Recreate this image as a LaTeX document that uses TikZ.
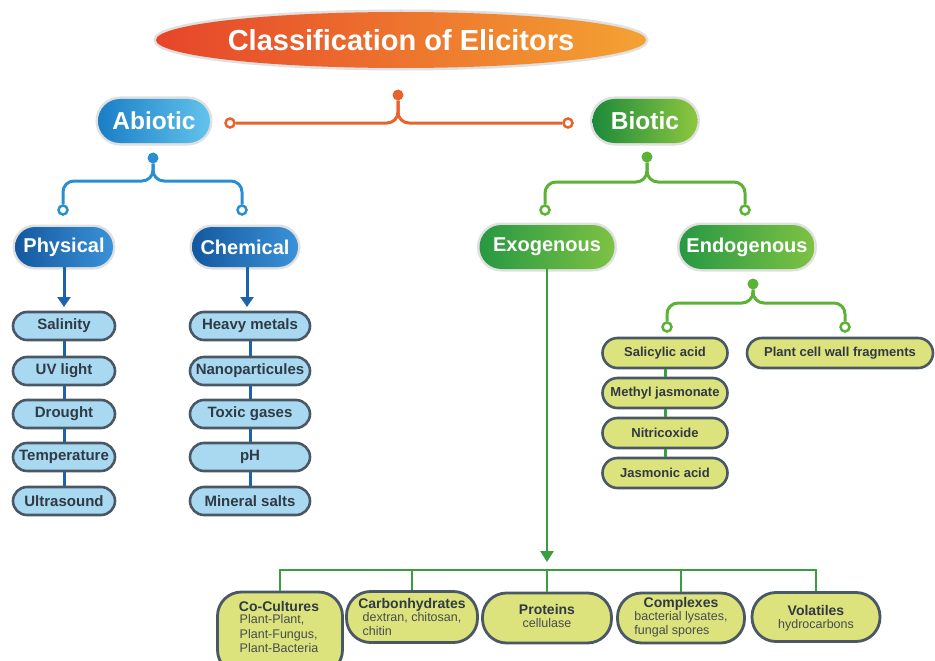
\documentclass[tikz,border=0pt]{standalone}
\usepackage{fontspec}
\setmainfont{Liberation Sans}
\usetikzlibrary{shapes.misc,shapes.geometric,arrows.meta}
\definecolor{orA}{HTML}{E6452A}
\definecolor{orB}{HTML}{F4A232}
\definecolor{orL}{HTML}{E8622C}
\definecolor{abA}{HTML}{1A7EC6}
\definecolor{abB}{HTML}{62C3EC}
\definecolor{phA}{HTML}{14589F}
\definecolor{phB}{HTML}{3A92D8}
\definecolor{blL}{HTML}{2A8FD0}
\definecolor{blD}{HTML}{1E62AE}
\definecolor{biA}{HTML}{1C8A3A}
\definecolor{biB}{HTML}{8DC63F}
\definecolor{exA}{HTML}{279843}
\definecolor{exB}{HTML}{7DC243}
\definecolor{grL}{HTML}{5BB234}
\definecolor{grD}{HTML}{3A9E3E}
\definecolor{lblue}{HTML}{A9D9F1}
\definecolor{ylw}{HTML}{DCE27C}
\definecolor{ibord}{HTML}{4A5866}
\definecolor{itext}{HTML}{2F3A44}
\definecolor{stext}{HTML}{474C50}
\newcommand{\bt}[1]{{\bfseries\fontsize{14}{16}\selectfont #1}}
\newcommand{\st}[1]{{\color{stext}\fontsize{12.5}{14.3}\selectfont\begin{tabular}{@{}l@{}}#1\end{tabular}}}
\newcommand{\bxt}[2]{\begin{tabular}{@{}c@{}}\bt{#1}\\[-1pt]\st{#2}\end{tabular}}
\begin{document}
\begin{tikzpicture}[x=1pt,y=-1pt,
  glow/.style={preaction={draw=black!12,line width=5pt}},
  pill/.style={rounded rectangle,inner sep=0pt,text=white,glow,
    font=\bfseries\fontsize{20}{24}\selectfont},
  itembox/.style={rounded rectangle,draw=ibord,line width=2.6pt,inner sep=0pt,
    minimum height=28pt,text=itext,font=\bfseries\fontsize{15}{17}\selectfont},
  bitem/.style={itembox,fill=lblue},
  yitem/.style={itembox,fill=ylw,minimum height=30pt,font=\bfseries\fontsize{13}{15}\selectfont},
  bbox/.style={rectangle,rounded corners=24pt,draw=ibord,fill=ylw,line width=2.8pt,inner sep=0pt},
  btext/.style={inner sep=0pt,text=itext},
  jdot/.style={circle,fill=#1,inner sep=0pt,minimum size=11pt},
  jring/.style={circle,draw=#1,fill=white,line width=2.5pt,inner sep=0pt,minimum size=9pt},
  conn/.style={draw=#1,line width=3pt,rounded corners=11pt},
  link/.style={draw=#1,line width=3pt},
]
\useasboundingbox[fill=white] (0,0) rectangle (935,661);

% title
\node[ellipse,minimum width=412pt,minimum height=56pt,inner sep=0pt,left color=orA,right color=orB,glow,
  text=white,font=\bfseries\fontsize{29}{32}\selectfont] (title) at (401,40) {Classification of Elicitors};

% level 1
\node[pill,minimum width=112pt,minimum height=44pt,left color=abA,right color=abB,font=\bfseries\fontsize{24.5}{28}\selectfont] (abiotic) at (154,121) {Abiotic};
\node[pill,minimum width=105pt,minimum height=44pt,left color=biA,right color=biB,font=\bfseries\fontsize{24.5}{28}\selectfont] (biotic) at (645,121) {Biotic};

\node[jdot=orL] (odot) at (398,95) {};
\node[jring=orL] (oring1) at (230,123) {};
\node[jring=orL] (oring2) at (568,123) {};
\coordinate (obus) at (0,123);
\draw[conn=orL] (oring1) -- (odot |- obus) -- (odot);
\draw[conn=orL] (oring2) -- (odot |- obus) -- (odot);

% abiotic branch
\node[jdot=blL] (adot) at (153,158) {};
\node[jring=blL] (aring1) at (63,210) {};
\node[jring=blL] (aring2) at (242,210) {};
\coordinate (abus) at (0,181);
\draw[conn=blL] (aring1) -- (aring1 |- abus) -- (adot |- abus) -- (adot);
\draw[conn=blL] (aring2) -- (aring2 |- abus) -- (adot |- abus) -- (adot);

\node[pill,minimum width=98pt,minimum height=40pt,left color=phA,right color=phB] (phys) at (64,247) {Physical};
\node[pill,minimum width=106pt,minimum height=40pt,left color=phA,right color=phB] (chem) at (245,247) {Chemical};

\node[bitem,minimum width=102pt] (p1) at (64,326) {Salinity};
\node[bitem,minimum width=102pt] (p2) at (64,371) {UV light};
\node[bitem,minimum width=102pt] (p3) at (64,414) {Drought};
\node[bitem,minimum width=102pt] (p4) at (64,457) {Temperature};
\node[bitem,minimum width=102pt] (p5) at (64,501) {Ultrasound};

\node[bitem,minimum width=120pt] (c1) at (250,326) {Heavy metals};
\node[bitem,minimum width=120pt] (c2) at (250,371) {Nanoparticules};
\node[bitem,minimum width=120pt] (c3) at (250,414) {Toxic gases};
\node[bitem,minimum width=120pt] (c4) at (250,457) {pH};
\node[bitem,minimum width=120pt] (c5) at (250,501) {Mineral salts};

\coordinate (parr) at (64,307);
\coordinate (carr) at (247,307);
\draw[link=blD,-{Triangle[width=13pt,length=10pt]}] (phys.south) -- (parr);
\draw[link=blD,-{Triangle[width=13pt,length=10pt]}] (chem.south -| carr) -- (carr);
\foreach \a/\b in {p1/p2,p2/p3,p3/p4,p4/p5,c1/c2,c2/c3,c3/c4,c4/c5}
  \draw[link=blD] (\a.south) -- (\b.north);

% biotic branch
\node[jdot=grL] (bdot) at (647,157) {};
\node[jring=grL] (bring1) at (545,210) {};
\node[jring=grL] (bring2) at (745,210) {};
\coordinate (bbus) at (0,182);
\draw[conn=grL] (bring1) -- (bring1 |- bbus) -- (bdot |- bbus) -- (bdot);
\draw[conn=grL] (bring2) -- (bring2 |- bbus) -- (bdot |- bbus) -- (bdot);

\node[pill,minimum width=135pt,minimum height=44pt,left color=exA,right color=exB] (exo) at (547,247) {Exogenous};
\node[pill,minimum width=135pt,minimum height=44pt,left color=exA,right color=exB] (endo) at (747,247) {Endogenous};

% endogenous
\node[jdot=grL] (edot) at (753,284) {};
\node[jring=grL] (ering1) at (667,327) {};
\node[jring=grL] (ering2) at (845,327) {};
\coordinate (ebus) at (0,303);
\draw[conn=grL] (ering1) -- (ering1 |- ebus) -- (edot |- ebus) -- (edot);
\draw[conn=grL] (ering2) -- (ering2 |- ebus) -- (edot |- ebus) -- (edot);

\node[yitem,minimum width=125pt] (e1) at (665,353) {Salicylic acid};
\node[yitem,minimum width=125pt] (e2) at (665,393) {Methyl jasmonate};
\node[yitem,minimum width=125pt] (e3) at (665,433) {Nitricoxide};
\node[yitem,minimum width=125pt] (e4) at (665,473) {Jasmonic acid};
\node[yitem,minimum width=186pt] (e5) at (840,353) {Plant cell wall fragments};
\foreach \a/\b in {e1/e2,e2/e3,e3/e4}
  \draw[link=grD] (\a.south) -- (\b.north);

% exogenous
\node[bbox,minimum width=125pt,minimum height=82pt] (x1) at (280,633) {};
\node[bbox,minimum width=131pt,minimum height=51pt] (x2) at (412,617) {};
\node[bbox,minimum width=129pt,minimum height=50pt] (x3) at (547,618) {};
\node[bbox,minimum width=127pt,minimum height=50pt] (x4) at (681,618) {};
\node[bbox,minimum width=128pt,minimum height=49pt] (x5) at (816,617) {};

\node[btext] (t1) at (279,629) {\bxt{Co-Cultures}{Plant-Plant,\\Plant-Fungus,\\Plant-Bacteria}};
\node[btext] (t2) at (412,619) {\bxt{Carbonhydrates}{dextran, chitosan,\\chitin}};
\node[btext] (t3) at (547,618) {\bxt{Proteins}{cellulase}};
\node[btext] (t4) at (681,618) {\bxt{Complexes}{bacterial lysates,\\fungal spores}};
\node[btext] (t5) at (816,619) {\bxt{Volatiles}{hydrocarbons}};

\coordinate (xarr) at (547,562);
\coordinate (xbus) at (0,570);
\draw[link=grD,line width=2.6pt,-{Triangle[width=13pt,length=11pt]}] (exo.south) -- (xarr);
\draw[link=grD,line width=2.6pt] (x1.north) -- (x1.north |- xbus) -- (x5.north |- xbus) -- (x5.north);
\foreach \n in {x2,x3,x4}
  \draw[link=grD,line width=2.6pt] (\n.north) -- (\n.north |- xbus);
\end{tikzpicture}
\end{document}
